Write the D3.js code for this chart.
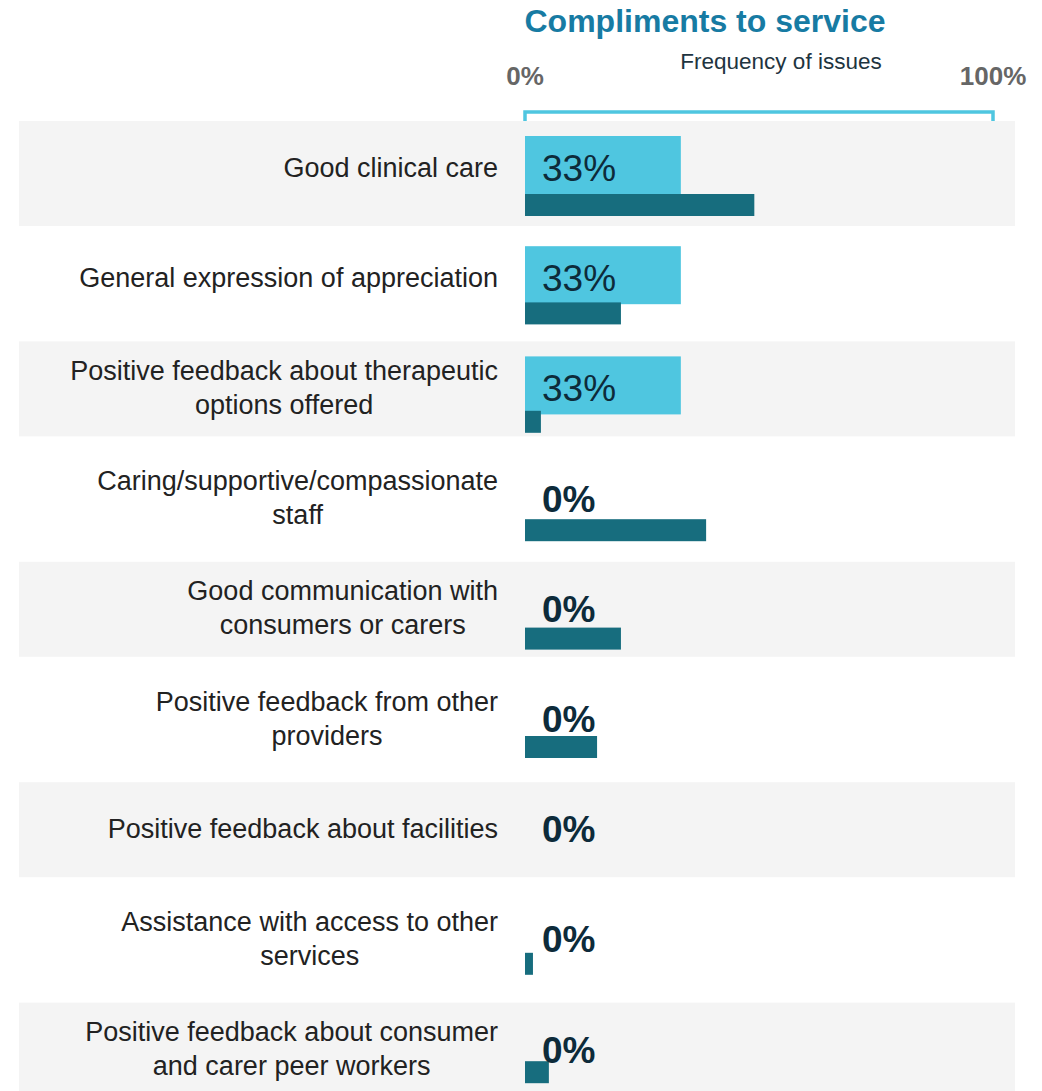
<!DOCTYPE html>
<html>
<head>
<meta charset="utf-8">
<script src="https://cdn.jsdelivr.net/npm/d3@7"></script>
<style>
  body { margin: 0; background: #fff; }
  text { font-family: "Liberation Sans", Arial, sans-serif; }
</style>
</head>
<body>
<svg id="chart" width="1042" height="1091"></svg>
<script>
// categories, each split into the lines shown on the chart
const categories = [
  ["Good clinical care"],
  ["General expression of appreciation"],
  ["Positive feedback about therapeutic", "options offered"],
  ["Caring/supportive/compassionate", "staff"],
  ["Good communication with", "consumers or carers"],
  ["Positive feedback from other", "providers"],
  ["Positive feedback about facilities"],
  ["Assistance with access to other", "services"],
  ["Positive feedback about consumer", "and carer peer workers"]
]
// this service (light bars + labels)
const serviceValues = [33.3, 33.3, 33.3, 0, 0, 0, 0, 0, 0]
// comparison (dark bars)
const comparisonValues = [49, 20.5, 3.4, 38.7, 20.5, 15.4, 0, 1.7, 5.1]
const axisTicks = [0, 100]

const svg = d3.select("#chart")
const keys = categories.map(c => c.join(" "))

const x = d3.scaleLinear().domain([0, 100]).range([525, 993])
// rows (background, labels, light bars)
const rowY = d3.scaleBand().domain(keys).range([121, 121 + 9 * 110.2])
// dark bars sit on a slightly tighter pitch
const barY = d3.scaleBand().domain(keys).range([121, 121 + 9 * 108.4])

// striped backgrounds
svg.selectAll("rect.bg")
  .data(keys.filter((k, i) => i % 2 === 0))
  .enter().append("rect")
  .attr("class", "bg")
  .attr("x", 19)
  .attr("width", 996)
  .attr("y", d => rowY(d))
  .attr("height", (d, i) => i === 0 ? 105 : 95)
  .attr("fill", "#f4f4f4")

// title + axis header
svg.append("text")
  .attr("x", 705).attr("y", 32)
  .attr("text-anchor", "middle")
  .attr("font-size", 32).attr("font-weight", "bold")
  .attr("fill", "#177ba3")
  .text("Compliments to service")

svg.append("text")
  .attr("x", 781).attr("y", 69)
  .attr("text-anchor", "middle")
  .attr("font-size", 22.5)
  .attr("fill", "#1e3440")
  .text("Frequency of issues")

svg.selectAll("text.tick")
  .data(axisTicks)
  .enter().append("text")
  .attr("class", "tick")
  .attr("x", d => x(d))
  .attr("y", 85)
  .attr("text-anchor", "middle")
  .attr("font-size", 26).attr("font-weight", "bold")
  .attr("fill", "#666")
  .text(d => d + "%")

// bracket over the scale
svg.append("path")
  .attr("d", "M" + x(0) + ",121V112H" + x(100) + "V121")
  .attr("fill", "none")
  .attr("stroke", "#4fc6e0")
  .attr("stroke-width", 3.5)

// light bars
svg.selectAll("rect.service")
  .data(keys)
  .enter().append("rect")
  .attr("class", "service")
  .attr("x", x(0))
  .attr("y", d => rowY(d) + 15)
  .attr("width", (d, i) => x(serviceValues[i]) - x(0))
  .attr("height", 58)
  .attr("fill", "#4fc6e0")

// dark bars
svg.selectAll("rect.comparison")
  .data(keys)
  .enter().append("rect")
  .attr("class", "comparison")
  .attr("x", x(0))
  .attr("y", d => barY(d) + 73)
  .attr("width", (d, i) => x(comparisonValues[i]) - x(0))
  .attr("height", 22)
  .attr("fill", "#176d7e")

// value labels
svg.selectAll("text.value")
  .data(keys)
  .enter().append("text")
  .attr("class", "value")
  .attr("x", 542)
  .attr("y", d => rowY(d) + 60)
  .attr("font-size", 37)
  .attr("font-weight", (d, i) => serviceValues[i] > 0 ? "normal" : "bold")
  .attr("fill", "#0d2b3a")
  .text((d, i) => d3.format(".0f")(serviceValues[i]) + "%")

// category labels: block right-aligned at 498, lines centred inside it
const labelRight = 498
const lineH = 34
categories.forEach((lines, i) => {
  const g = svg.append("text")
    .attr("font-size", 27)
    .attr("fill", "#222")
    .attr("text-anchor", "middle")
  const mid = rowY(keys[i]) + 46
  const first = mid - (lines.length - 1) * lineH / 2 + 9.5
  const spans = lines.map((l, j) => g.append("tspan")
    .attr("y", first + j * lineH)
    .text(l))
  const w = d3.max(spans, s => s.node().getComputedTextLength())
  spans.forEach(s => s.attr("x", labelRight - w / 2))
})
</script>
</body>
</html>
